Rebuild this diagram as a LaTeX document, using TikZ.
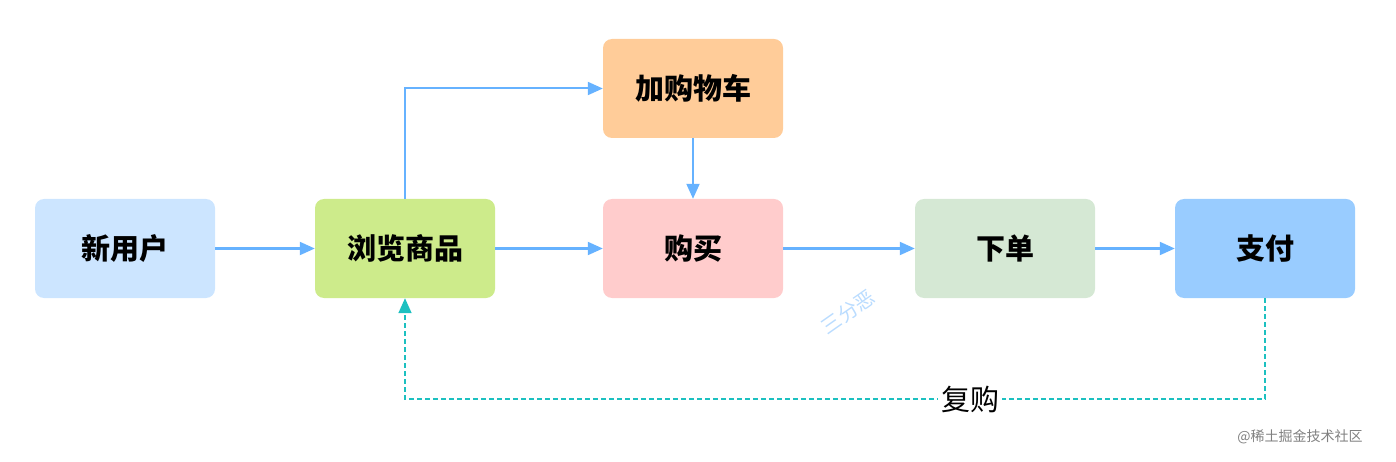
\documentclass[tikz,border=0pt]{standalone}
\usepackage{fontspec}
\newfontfamily\cjk{Noto Sans CJK SC}
\usetikzlibrary{arrows.meta}
\definecolor{cblue}{HTML}{CCE5FF}
\definecolor{cgreen}{HTML}{CDEB8B}
\definecolor{corange}{HTML}{FFCC99}
\definecolor{cpink}{HTML}{FFCCCC}
\definecolor{cgray}{HTML}{D5E8D4}
\definecolor{cdblue}{HTML}{99CCFF}
\definecolor{arr}{HTML}{66B2FF}
\definecolor{teal2}{HTML}{1CC0C0}
\begin{document}
\begin{tikzpicture}[x=1pt,y=-1pt,
  box/.style={rounded corners=9pt,minimum width=180pt,minimum height=99pt,font=\cjk\bfseries\fontsize{29}{32}\selectfont,inner sep=0},
  link/.style={draw=arr,line width=2pt,-{Triangle[length=15pt,width=13pt]}},
  back/.style={draw=teal2,line width=1.6pt,dash pattern=on 5pt off 3pt,-{Triangle[length=15pt,width=13pt]}}]
\useasboundingbox (0,0) rectangle (1396,462);
\node[box,fill=cblue] (a) at (125,248.5) {新用户};
\node[box,fill=cgreen] (b) at (405,248.5) {浏览商品};
\node[box,fill=corange] (c) at (693,88.5) {加购物车};
\node[box,fill=cpink] (d) at (693,248.5) {购买};
\node[box,fill=cgray] (e) at (1005,248.5) {下单};
\node[box,fill=cdblue] (f) at (1265,248.5) {支付};
\draw[link] (a) -- (b);
\draw[link] (b) -- (d);
\draw[link] (d) -- (e);
\draw[link] (e) -- (f);
\draw[link] (c) -- (d);
\draw[link] (b.north) |- (c.west);
\coordinate (r) at (1265,399);
\draw[back] (f.south) -- (r) -| (b.south);
\node[fill=white,font=\cjk\fontsize{29}{32}\selectfont,inner sep=3pt] (g) at (970,399) {复购};
\node[font=\cjk\fontsize{20}{22}\selectfont,text=arr!45,rotate=35,inner sep=0] (w) at (848,312) {三分恶};
\node[font=\cjk\fontsize{14}{16}\selectfont,text=black!50] (x) at (1300,437) {@稀土掘金技术社区};
\end{tikzpicture}
\end{document}
